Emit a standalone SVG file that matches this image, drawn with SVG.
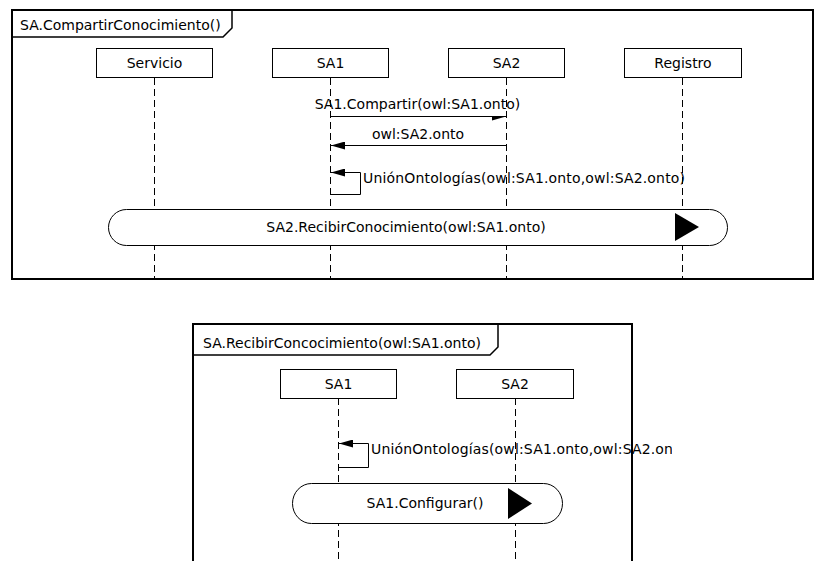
<svg xmlns="http://www.w3.org/2000/svg" width="815" height="561" viewBox="0 0 815 561">
  <style>
    text { font-family: "DejaVu Sans", "Liberation Sans", sans-serif; font-size: 14px; fill: #000; }
    .frame { fill: none; stroke: #000; stroke-width: 2; }
    .tab { fill: none; stroke: #000; stroke-width: 1.5; }
    .head { fill: #fff; stroke: #000; stroke-width: 1; }
    .life { stroke: #000; stroke-width: 1; stroke-dasharray: 7 4; fill: none; }
    .msg { stroke: #000; stroke-width: 1; fill: none; }
    .pill { fill: #fff; stroke: #000; stroke-width: 1; }
    .mid { text-anchor: middle; }
  </style>
  <defs>
    <marker id="arrow" viewBox="0 0 14 8" refX="14" refY="4" markerWidth="14" markerHeight="8" markerUnits="userSpaceOnUse" orient="auto">
      <path d="M0,0 L14,4 L0,8 z" fill="#000"/>
    </marker>
    <marker id="halfArrow" viewBox="0 0 14 8" refX="14" refY="4" markerWidth="14" markerHeight="8" markerUnits="userSpaceOnUse" orient="auto">
      <path d="M0,4 L14,4 L0,8 z" fill="#000"/>
    </marker>
    <!-- fixed-width label box of the self message in the second frame -->
    <clipPath id="clipSelf2">
      <rect x="360" y="430" width="312" height="40"/>
    </clipPath>
  </defs>

  <rect width="815" height="561" fill="#fff"/>

  <!-- Frame: SA.CompartirConocimiento() -->
  <g id="frame-compartir">
    <rect class="frame" x="12" y="10" width="801" height="269"/>
    <path class="tab" d="M12,37 H223 L232,28 V10"/>
    <text x="20" y="30">SA.CompartirConocimiento()</text>
  </g>

  <!-- Lifelines of the first frame -->
  <g id="servicio">
    <line class="life" x1="154.5" y1="78" x2="154.5" y2="278"/>
    <rect class="head" x="96.5" y="48.5" width="116" height="29"/>
    <text class="mid" x="154.5" y="68">Servicio</text>
  </g>
  <g id="sa1">
    <line class="life" x1="330.5" y1="78" x2="330.5" y2="278"/>
    <rect class="head" x="272.5" y="48.5" width="116" height="29"/>
    <text class="mid" x="330.5" y="68">SA1</text>
  </g>
  <g id="sa2">
    <line class="life" x1="506.5" y1="78" x2="506.5" y2="278"/>
    <rect class="head" x="448.5" y="48.5" width="116" height="29"/>
    <text class="mid" x="506.5" y="68">SA2</text>
  </g>
  <g id="registro">
    <line class="life" x1="682.5" y1="78" x2="682.5" y2="278"/>
    <rect class="head" x="624.5" y="48.5" width="117" height="29"/>
    <text class="mid" x="683" y="68">Registro</text>
  </g>

  <!-- Messages of the first frame -->
  <g id="connectors-compartir">
    <line class="msg" x1="330.5" y1="116.5" x2="506" y2="116.5" marker-end="url(#halfArrow)"/>
    <text class="mid" x="417.5" y="109">SA1.Compartir(owl:SA1.onto)</text>

    <line class="msg" x1="506.5" y1="145.5" x2="331" y2="145.5" marker-end="url(#arrow)"/>
    <text class="mid" x="418" y="139">owl:SA2.onto</text>

    <path class="msg" d="M330.5,194.5 H360.5 V172.5 H331" marker-end="url(#arrow)"/>
    <text x="363" y="183" textLength="322" lengthAdjust="spacing">UniónOntologías(owl:SA1.onto,owl:SA2.onto)</text>
  </g>

  <!-- Interaction use: SA2.RecibirConocimiento -->
  <g id="ref-recibir">
    <rect class="pill" x="108.5" y="209.5" width="619" height="36" rx="18" ry="18"/>
    <text class="mid" x="406" y="232">SA2.RecibirConocimiento(owl:SA1.onto)</text>
    <path d="M675,213 L675,241 L699,227 z" fill="#000"/>
  </g>

  <!-- Frame: SA.RecibirConcocimiento(owl:SA1.onto) -->
  <g id="frame-recibir">
    <rect class="frame" x="193" y="324" width="439" height="300"/>
    <path class="tab" d="M193,355 H490 L498,347 V324"/>
    <text x="203" y="348">SA.RecibirConcocimiento(owl:SA1.onto)</text>
  </g>

  <g id="sa1-b">
    <line class="life" x1="338.5" y1="398" x2="338.5" y2="561"/>
    <rect class="head" x="280.5" y="369.5" width="116" height="29"/>
    <text class="mid" x="338.5" y="389">SA1</text>
  </g>
  <g id="sa2-b">
    <line class="life" x1="515.5" y1="398" x2="515.5" y2="561"/>
    <rect class="head" x="456.5" y="369.5" width="117" height="29"/>
    <text class="mid" x="515" y="389">SA2</text>
  </g>

  <g id="connectors-recibir">
    <path class="msg" d="M338.5,467.5 H368.5 V443.5 H339" marker-end="url(#arrow)"/>
    <text x="371" y="454" textLength="322" lengthAdjust="spacing" clip-path="url(#clipSelf2)">UniónOntologías(owl:SA1.onto,owl:SA2.onto)</text>
  </g>

  <!-- Interaction use: SA1.Configurar -->
  <g id="ref-configurar">
    <rect class="pill" x="292.5" y="483.5" width="270" height="40" rx="19" ry="20"/>
    <text class="mid" x="425" y="508">SA1.Configurar()</text>
    <path d="M508,488 L508,519 L532,503.5 z" fill="#000"/>
  </g>
</svg>
